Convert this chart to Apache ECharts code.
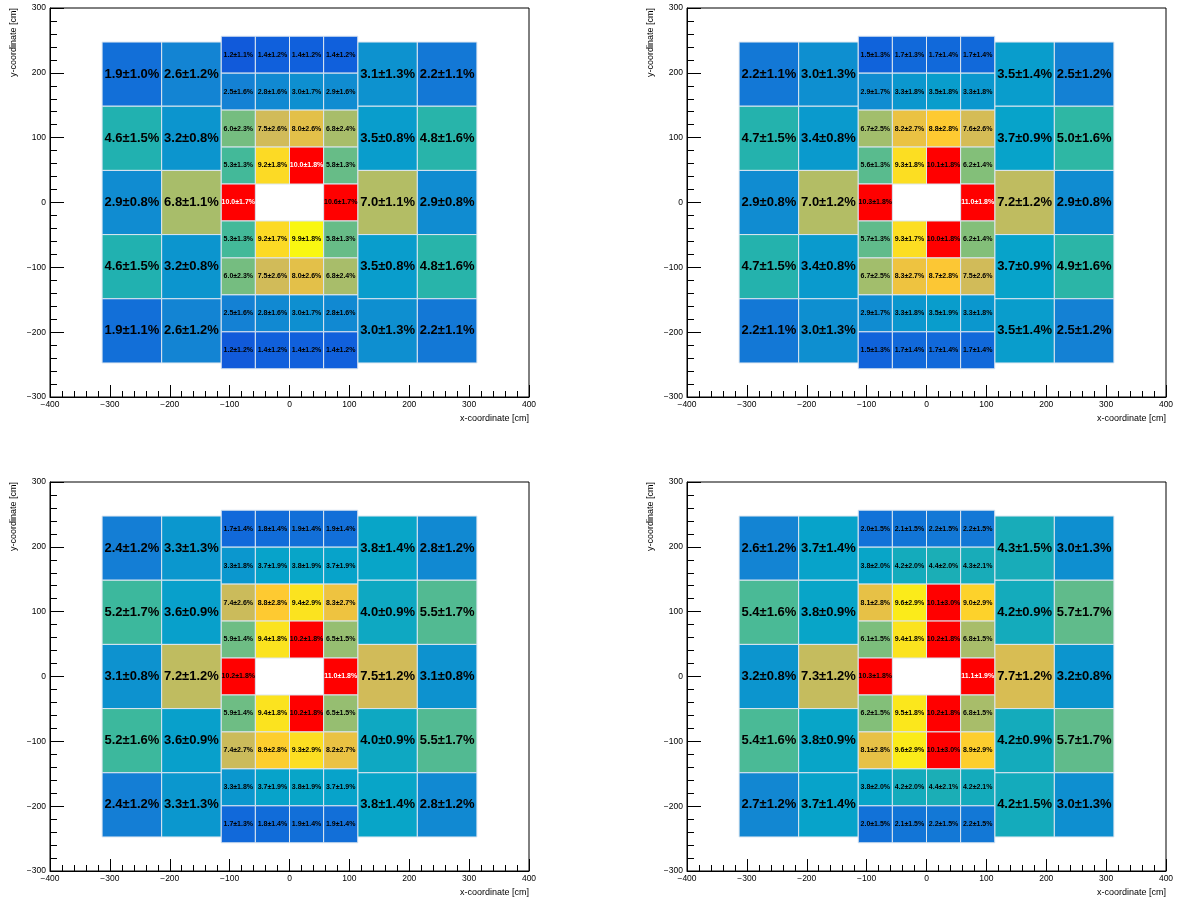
<!DOCTYPE html>
<html>
<head>
<meta charset="utf-8">
<script src="https://cdn.jsdelivr.net/npm/echarts@6/dist/echarts.min.js"></script>
<style>
  html, body { margin: 0; padding: 0; background: #fff; }
  #chart { width: 1177px; height: 905px; }
</style>
</head>
<body>
<div id="chart"></div>
<script>
// bin edges [cm]
const outerXBins = [[-313, -213.5], [-213.5, -114], [114, 213.5], [213.5, 313]]
const outerYEdges = [247.5, 148.5, 49.5, -49.5, -148.5, -247.5]
const innerXEdges = [-114, -57, 0, 57, 114]
const innerYEdges = [256.5, 199.5, 142.5, 85.5, 28.5, -28.5, -85.5, -142.5, -199.5, -256.5]

// [value, error] in %, rows top -> bottom
const p1Outer = [
  [[1.9, 1.0], [2.6, 1.2], [3.1, 1.3], [2.2, 1.1]],
  [[4.6, 1.5], [3.2, 0.8], [3.5, 0.8], [4.8, 1.6]],
  [[2.9, 0.8], [6.8, 1.1], [7.0, 1.1], [2.9, 0.8]],
  [[4.6, 1.5], [3.2, 0.8], [3.5, 0.8], [4.8, 1.6]],
  [[1.9, 1.1], [2.6, 1.2], [3.0, 1.3], [2.2, 1.1]]
]
const p1Inner = [
  [[1.2, 1.1], [1.4, 1.2], [1.4, 1.2], [1.4, 1.2]],
  [[2.5, 1.6], [2.8, 1.6], [3.0, 1.7], [2.9, 1.6]],
  [[6.0, 2.3], [7.5, 2.6], [8.0, 2.6], [6.8, 2.4]],
  [[5.3, 1.3], [9.2, 1.8], [10.0, 1.8], [5.8, 1.3]],
  [[10.0, 1.7], null, null, [10.6, 1.7]],
  [[5.3, 1.3], [9.2, 1.7], [9.9, 1.8], [5.8, 1.3]],
  [[6.0, 2.3], [7.5, 2.6], [8.0, 2.6], [6.8, 2.4]],
  [[2.5, 1.6], [2.8, 1.6], [3.0, 1.7], [2.8, 1.6]],
  [[1.2, 1.2], [1.4, 1.2], [1.4, 1.2], [1.4, 1.2]]
]

const p2Outer = [
  [[2.2, 1.1], [3.0, 1.3], [3.5, 1.4], [2.5, 1.2]],
  [[4.7, 1.5], [3.4, 0.8], [3.7, 0.9], [5.0, 1.6]],
  [[2.9, 0.8], [7.0, 1.2], [7.2, 1.2], [2.9, 0.8]],
  [[4.7, 1.5], [3.4, 0.8], [3.7, 0.9], [4.9, 1.6]],
  [[2.2, 1.1], [3.0, 1.3], [3.5, 1.4], [2.5, 1.2]]
]
const p2Inner = [
  [[1.5, 1.3], [1.7, 1.3], [1.7, 1.4], [1.7, 1.4]],
  [[2.9, 1.7], [3.3, 1.8], [3.5, 1.8], [3.3, 1.8]],
  [[6.7, 2.5], [8.2, 2.7], [8.8, 2.8], [7.6, 2.6]],
  [[5.6, 1.3], [9.3, 1.8], [10.1, 1.8], [6.2, 1.4]],
  [[10.3, 1.8], null, null, [11.0, 1.8]],
  [[5.7, 1.3], [9.3, 1.7], [10.0, 1.8], [6.2, 1.4]],
  [[6.7, 2.5], [8.3, 2.7], [8.7, 2.8], [7.5, 2.6]],
  [[2.9, 1.7], [3.3, 1.8], [3.5, 1.9], [3.3, 1.8]],
  [[1.5, 1.3], [1.7, 1.4], [1.7, 1.4], [1.7, 1.4]]
]

const p3Outer = [
  [[2.4, 1.2], [3.3, 1.3], [3.8, 1.4], [2.8, 1.2]],
  [[5.2, 1.7], [3.6, 0.9], [4.0, 0.9], [5.5, 1.7]],
  [[3.1, 0.8], [7.2, 1.2], [7.5, 1.2], [3.1, 0.8]],
  [[5.2, 1.6], [3.6, 0.9], [4.0, 0.9], [5.5, 1.7]],
  [[2.4, 1.2], [3.3, 1.3], [3.8, 1.4], [2.8, 1.2]]
]
const p3Inner = [
  [[1.7, 1.4], [1.8, 1.4], [1.9, 1.4], [1.9, 1.4]],
  [[3.3, 1.8], [3.7, 1.9], [3.8, 1.9], [3.7, 1.9]],
  [[7.4, 2.6], [8.8, 2.8], [9.4, 2.9], [8.3, 2.7]],
  [[5.9, 1.4], [9.4, 1.8], [10.2, 1.8], [6.5, 1.5]],
  [[10.2, 1.8], null, null, [11.0, 1.8]],
  [[5.9, 1.4], [9.4, 1.8], [10.2, 1.8], [6.5, 1.5]],
  [[7.4, 2.7], [8.9, 2.8], [9.3, 2.9], [8.2, 2.7]],
  [[3.3, 1.8], [3.7, 1.9], [3.8, 1.9], [3.7, 1.9]],
  [[1.7, 1.3], [1.8, 1.4], [1.9, 1.4], [1.9, 1.4]]
]

const p4Outer = [
  [[2.6, 1.2], [3.7, 1.4], [4.3, 1.5], [3.0, 1.3]],
  [[5.4, 1.6], [3.8, 0.9], [4.2, 0.9], [5.7, 1.7]],
  [[3.2, 0.8], [7.3, 1.2], [7.7, 1.2], [3.2, 0.8]],
  [[5.4, 1.6], [3.8, 0.9], [4.2, 0.9], [5.7, 1.7]],
  [[2.7, 1.2], [3.7, 1.4], [4.2, 1.5], [3.0, 1.3]]
]
const p4Inner = [
  [[2.0, 1.5], [2.1, 1.5], [2.2, 1.5], [2.2, 1.5]],
  [[3.8, 2.0], [4.2, 2.0], [4.4, 2.0], [4.3, 2.1]],
  [[8.1, 2.8], [9.6, 2.9], [10.1, 3.0], [9.0, 2.9]],
  [[6.1, 1.5], [9.4, 1.8], [10.2, 1.8], [6.8, 1.5]],
  [[10.3, 1.8], null, null, [11.1, 1.9]],
  [[6.2, 1.5], [9.5, 1.8], [10.2, 1.8], [6.8, 1.5]],
  [[8.1, 2.8], [9.6, 2.9], [10.1, 3.0], [8.9, 2.9]],
  [[3.8, 2.0], [4.2, 2.0], [4.4, 2.1], [4.2, 2.1]],
  [[2.0, 1.5], [2.1, 1.5], [2.2, 1.5], [2.2, 1.5]]
]

// inner cells whose label is printed in white [row, col]
const p1White = [[3, 2], [4, 0]]
const p2White = [[4, 3]]
const p3White = [[4, 3]]
const p4White = [[4, 3]]

const panels = [
  { outer: p1Outer, inner: p1Inner, white: p1White, left: 50, top: 8 },
  { outer: p2Outer, inner: p2Inner, white: p2White, left: 687, top: 8 },
  { outer: p3Outer, inner: p3Inner, white: p3White, left: 50, top: 482 },
  { outer: p4Outer, inner: p4Inner, white: p4White, left: 687, top: 482 }
]

// ROOT kBird palette
const kBird = ['#352a87', '#0f5cdd', '#1481d4', '#06a4ca', '#2eb7a4', '#87bf77', '#d1bb59', '#fec832', '#f9fb0e']
const FONT = '"Liberation Sans", Arial, Helvetica, sans-serif'
const minus = v => String(v).replace('-', '\u2212')

function buildCells(p) {
  const cells = []
  p.outer.forEach((row, r) => {
    row.forEach((c, k) => {
      const xb = outerXBins[k]
      cells.push([xb[0], xb[1], outerYEdges[r + 1], outerYEdges[r], c[0], c[1], 1, 0])
    })
  })
  p.inner.forEach((row, r) => {
    row.forEach((c, k) => {
      if (!c) return
      const w = p.white.some(a => a[0] === r && a[1] === k) ? 1 : 0
      cells.push([innerXEdges[k], innerXEdges[k + 1], innerYEdges[r + 1], innerYEdges[r], c[0], c[1], 0, w])
    })
  })
  return cells
}

function renderCell(params, api) {
  const a = api.coord([api.value(0), api.value(3)])
  const b = api.coord([api.value(1), api.value(2)])
  const w = b[0] - a[0]
  const h = b[1] - a[1]
  const big = api.value(6) === 1
  const txt = api.value(4).toFixed(1) + '\u00b1' + api.value(5).toFixed(1) + '%'
  return {
    type: 'group',
    children: [
      {
        type: 'rect',
        shape: { x: a[0], y: a[1], width: w, height: h },
        style: { fill: api.visual('color'), stroke: '#dce6f0', lineWidth: 1 }
      },
      {
        type: 'text',
        x: a[0] + w / 2,
        y: a[1] + h / 2,
        style: {
          text: txt,
          align: 'center',
          verticalAlign: 'middle',
          font: 'bold ' + (big ? 13 : 7) + 'px ' + FONT,
          fill: api.value(7) === 1 ? '#fff' : '#000'
        }
      }
    ]
  }
}

const grid = [], xAxis = [], yAxis = [], series = []
panels.forEach((p, i) => {
  grid.push({
    left: p.left, top: p.top, width: 479, height: 389,
    show: true, borderColor: '#000', borderWidth: 1, backgroundColor: '#fff'
  })
  xAxis.push({
    gridIndex: i, type: 'value', min: -400, max: 400, interval: 100,
    axisLine: { onZero: false, lineStyle: { color: '#000', width: 1 } },
    axisTick: { inside: true, length: 12, lineStyle: { color: '#000' } },
    minorTick: { show: true, splitNumber: 5, length: 6, lineStyle: { color: '#000' } },
    splitLine: { show: false },
    axisLabel: { color: '#000', fontSize: 8.5, fontFamily: FONT, margin: 3, formatter: minus },
    name: 'x-coordinate [cm]', nameLocation: 'end', nameGap: 0, nameMoveOverlap: false,
    nameTextStyle: { color: '#000', fontSize: 9, fontFamily: FONT, align: 'right', verticalAlign: 'top', padding: [17, 0, 0, 0] }
  })
  yAxis.push({
    gridIndex: i, type: 'value', min: -300, max: 300, interval: 100,
    axisLine: { onZero: false, lineStyle: { color: '#000', width: 1 } },
    axisTick: { inside: true, length: 14, lineStyle: { color: '#000' } },
    minorTick: { show: true, splitNumber: 5, length: 7, lineStyle: { color: '#000' } },
    splitLine: { show: false },
    axisLabel: { color: '#000', fontSize: 8.5, fontFamily: FONT, margin: 4, formatter: minus },
    name: 'y-coordinate [cm]', nameLocation: 'end', nameGap: 0, nameRotate: 90, nameMoveOverlap: false,
    nameTextStyle: { color: '#000', fontSize: 9, fontFamily: FONT, align: 'right', verticalAlign: 'bottom', padding: [0, 0, 32, 0] }
  })
  series.push({
    type: 'custom',
    xAxisIndex: i,
    yAxisIndex: i,
    renderItem: renderCell,
    encode: { x: [0, 1], y: [2, 3] },
    clip: false,
    data: buildCells(p)
  })
})

const myChart = echarts.init(document.getElementById('chart'))
myChart.setOption({
  backgroundColor: '#fff',
  animation: false,
  grid,
  xAxis,
  yAxis,
  // values above ~10% are drawn in red
  visualMap: {
    type: 'continuous',
    show: false,
    min: 0,
    max: 10,
    range: [0, 9.95],
    dimension: 4,
    seriesIndex: [0, 1, 2, 3],
    inRange: { color: kBird },
    outOfRange: { color: '#ff0000' }
  },
  series
})
</script>
</body>
</html>
